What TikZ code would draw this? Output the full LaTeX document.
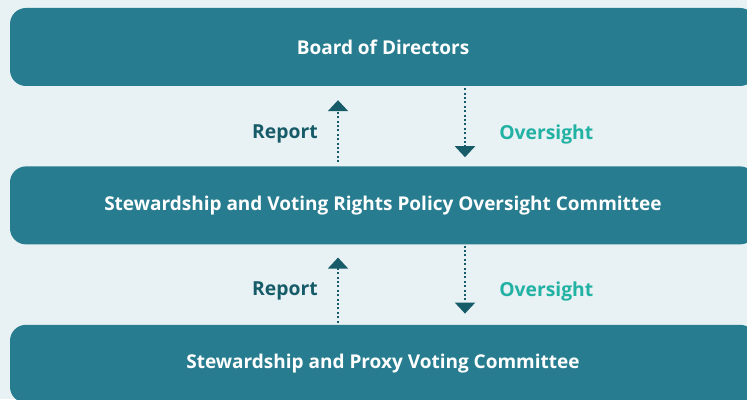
\documentclass[tikz,border=0pt]{standalone}
\usepackage{fontspec}
\setmainfont{Open Sans}
\usetikzlibrary{positioning, arrows.meta}
\definecolor{pagebg}{HTML}{E8F1F4}
\definecolor{tealbox}{HTML}{277D8F}
\definecolor{deepteal}{HTML}{155B68}
\definecolor{mint}{HTML}{22B2A4}
\tikzset{
  unit/.style={rounded corners=16pt, fill=tealbox, text=white,
               minimum width=746pt, minimum height=78pt, inner sep=0pt,
               font=\fontsize{19}{22}\selectfont\bfseries},
  feed/.style={-{Triangle[width=20pt,length=11pt]}, draw=deepteal,
               line width=2pt, dash pattern=on 2pt off 2.4pt},
  replabel/.style={text=deepteal, font=\fontsize{19.3}{22}\selectfont\bfseries},
  overlabel/.style={text=mint, font=\fontsize{19.3}{22}\selectfont\bfseries},
}
\begin{document}
\begin{tikzpicture}[x=1pt, y=1pt, node distance=80pt]
  \useasboundingbox (0,0) rectangle (747,399);
  \clip (0,0) rectangle (747,399);
  \fill[pagebg] (0,0) rectangle (747,399);

  \node[unit] (board) at (383,352) {Board of Directors};
  \node[unit, below=of board] (svrpoc)
    {Stewardship and Voting Rights Policy Oversight Committee};
  \node[unit, below=of svrpoc] (spvc)
    {Stewardship and Proxy Voting Committee};

  % upper pair
  \draw[feed, shorten <=4pt, shorten >=14pt]
    ([xshift=-45pt]svrpoc.north) -- ([xshift=-45pt]board.south)
    node[pos=.40, left=16pt, replabel] {Report};
  \draw[feed, shorten <=2pt, shorten >=9pt]
    ([xshift=82pt]board.south) -- ([xshift=82pt]svrpoc.north)
    node[pos=.60, right=30pt, overlabel] {Oversight};

  % lower pair
  \draw[feed, shorten <=2pt, shorten >=13pt]
    ([xshift=-45pt]spvc.north) -- ([xshift=-45pt]svrpoc.south)
    node[pos=.42, left=16pt, replabel] {Report};
  \draw[feed, shorten <=1pt, shorten >=11pt]
    ([xshift=82pt]svrpoc.south) -- ([xshift=82pt]spvc.north)
    node[pos=.58, right=30pt, overlabel] {Oversight};
\end{tikzpicture}
\end{document}
